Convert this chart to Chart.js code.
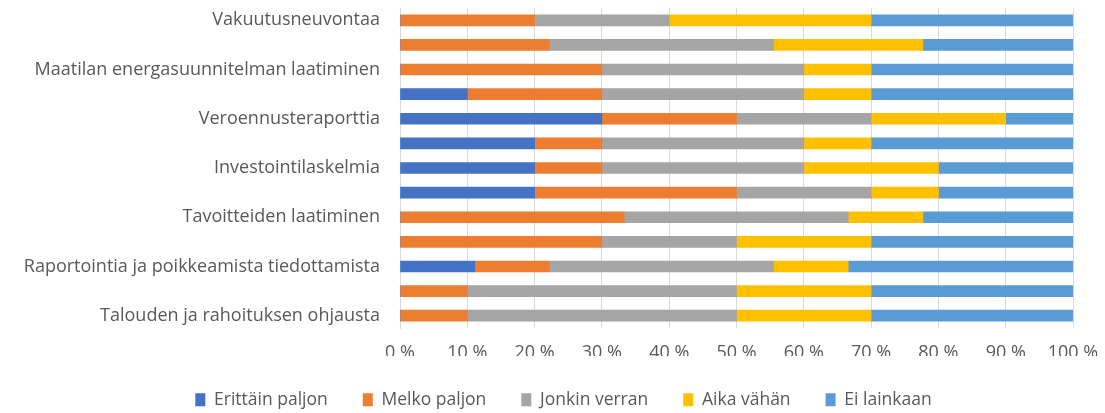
<!DOCTYPE html>
<html>
<head>
<meta charset="utf-8">
<script src="https://cdn.jsdelivr.net/npm/chart.js@4"></script>
<style>
  html, body { margin: 0; padding: 0; background: #fff; }
  #wrap { width: 1105px; height: 413px; }
</style>
</head>
<body>
<div id="wrap"><canvas id="chart"></canvas></div>
<script>
// rows from top to bottom, only every other row has a label
const categories = [
  "Vakuutusneuvontaa", "",
  "Maatilan energasuunnitelman laatiminen", "",
  "Veroennusteraporttia", "",
  "Investointilaskelmia", "",
  "Tavoitteiden laatiminen", "",
  "Raportointia ja poikkeamista tiedottamista", "",
  "Talouden ja rahoituksen ohjausta"
];
const erittainPaljon = [0, 0, 0, 10, 30, 20, 20, 20, 0, 0, 11.1, 0, 0];
const melkoPaljon = [20, 22.2, 30, 20, 20, 10, 10, 30, 33.3, 30, 11.1, 10, 10];
const jonkinVerran = [20, 33.3, 30, 30, 20, 30, 30, 20, 33.3, 20, 33.3, 40, 40];
const aikaVahan = [30, 22.2, 10, 10, 20, 10, 20, 10, 11.1, 20, 11.1, 20, 20];
const eiLainkaan = [30, 22.3, 30, 30, 10, 30, 20, 20, 22.3, 30, 33.4, 30, 30];
const xTicks = [0, 10, 20, 30, 40, 50, 60, 70, 80, 90, 100];

const txt = "#595959";
const family = "'Open Sans', 'Liberation Sans', sans-serif";

const series = [
  ["Erittäin paljon", erittainPaljon, "#4472C4"],
  ["Melko paljon", melkoPaljon, "#ED7D31"],
  ["Jonkin verran", jonkinVerran, "#A5A5A5"],
  ["Aika vähän", aikaVahan, "#FFC000"],
  ["Ei lainkaan", eiLainkaan, "#5B9BD5"],
];

// legend sits a bit right of the page centre, like in the original
const shiftLegend = {
  id: "shiftLegend",
  afterLayout(chart) { chart.legend.left = 54; },
};

new Chart(document.getElementById("chart").getContext("2d"), {
  type: "bar",
  data: {
    labels: categories,
    datasets: series.map(([label, data, color]) => ({
      label, data,
      backgroundColor: color,
      borderWidth: 0,
      barThickness: 11,
    })),
  },
  plugins: [shiftLegend],
  options: {
    indexAxis: "y",
    responsive: true,
    maintainAspectRatio: false,
    animation: false,
    layout: { padding: { left: 0, right: 32, top: 8, bottom: -5.5 } },
    plugins: {
      legend: {
        position: "bottom",
        labels: {
          color: txt,
          font: { family, size: 17.5 },
          boxWidth: 10,
          boxHeight: 13,
          padding: 35,
        },
      },
      tooltip: { enabled: false },
    },
    scales: {
      x: {
        stacked: true,
        min: 0, max: 100,
        afterBuildTicks: (s) => { s.ticks = xTicks.map(v => ({ value: v })); },
        afterFit: (s) => { s.height = 28; s.paddingLeft = 0; s.paddingRight = 0; },
        ticks: {
          color: txt, font: { family, size: 18 },
          padding: 14,
          maxRotation: 0,
          callback: (v) => v + " %",
        },
        grid: { color: "#D9D9D9", drawTicks: false },
        border: { display: false },
      },
      y: {
        stacked: true,
        afterFit: (s) => { s.width = 400; s.paddingTop = 0; s.paddingBottom = 0; },
        ticks: { color: txt, font: { family, size: 18 }, autoSkip: false, padding: 20 },
        grid: { display: false, drawTicks: false },
        border: { display: true, color: "#D9D9D9" },
      },
    },
  },
});
</script>
</body>
</html>
